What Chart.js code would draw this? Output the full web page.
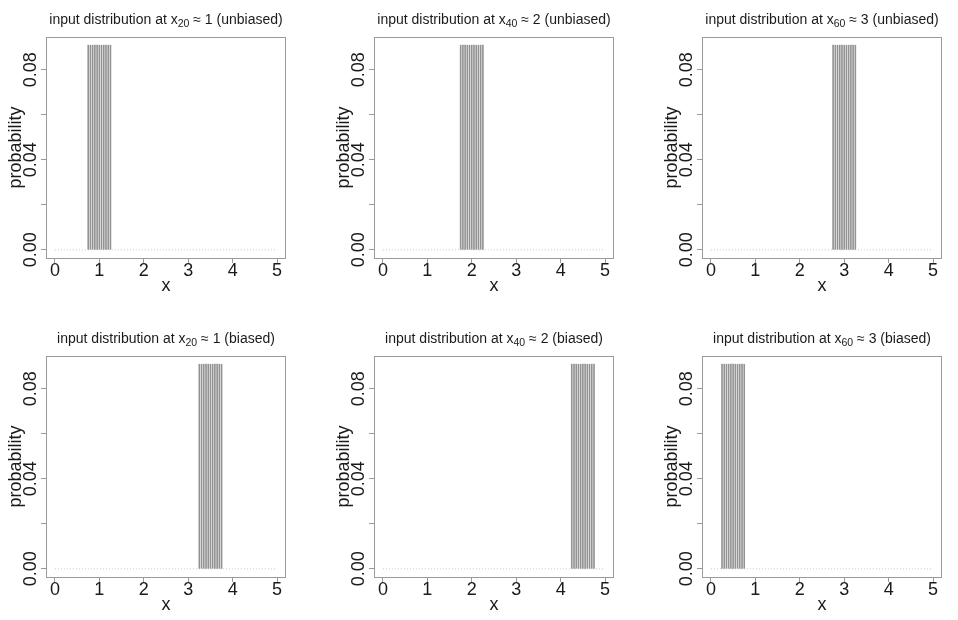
<!DOCTYPE html>
<html>
<head>
<meta charset="utf-8">
<script src="https://cdn.jsdelivr.net/npm/chart.js@4.4.1/dist/chart.umd.min.js"></script>
<style>
  body { margin: 0; background: #fff; width: 958px; height: 620px; position: relative; overflow: hidden; }
  canvas { position: absolute; }
</style>
</head>
<body>
<canvas id="p0" width="300" height="298" style="left:0px;top:0px"></canvas>
<canvas id="p1" width="300" height="298" style="left:328px;top:0px"></canvas>
<canvas id="p2" width="300" height="298" style="left:656px;top:0px"></canvas>
<canvas id="p3" width="300" height="298" style="left:0px;top:319px"></canvas>
<canvas id="p4" width="300" height="298" style="left:328px;top:319px"></canvas>
<canvas id="p5" width="300" height="298" style="left:656px;top:319px"></canvas>
<script>
// axis ticks
const xTicks = [0, 1, 2, 3, 4, 5];
const yTicks = [0, 0.02, 0.04, 0.06, 0.08];
const yLabelled = [0, 0.04, 0.08];

// dotted zero line across the grid
const baselineX = [0, 5];
const baselineY = [0, 0];

// support points of each input distribution
const xUnbiased20 = [0.75, 0.80, 0.85, 0.90, 0.95, 1.00, 1.05, 1.10, 1.15, 1.20, 1.25];
const xUnbiased40 = [1.75, 1.80, 1.85, 1.90, 1.95, 2.00, 2.05, 2.10, 2.15, 2.20, 2.25];
const xUnbiased60 = [2.75, 2.80, 2.85, 2.90, 2.95, 3.00, 3.05, 3.10, 3.15, 3.20, 3.25];
const xBiased20 = [3.25, 3.30, 3.35, 3.40, 3.45, 3.50, 3.55, 3.60, 3.65, 3.70, 3.75];
const xBiased40 = [4.25, 4.30, 4.35, 4.40, 4.45, 4.50, 4.55, 4.60, 4.65, 4.70, 4.75];
const xBiased60 = [0.25, 0.30, 0.35, 0.40, 0.45, 0.50, 0.55, 0.60, 0.65, 0.70, 0.75];
const prob = [0.0909, 0.0909, 0.0909, 0.0909, 0.0909, 0.0909, 0.0909, 0.0909, 0.0909, 0.0909, 0.0909];

// title parts
const subscripts = ['20', '40', '60'];
const approxValues = ['1', '2', '3'];
const kinds = ['unbiased', 'biased'];

const FONT = '"Liberation Sans", Arial, Helvetica, sans-serif';
const AXIS_GRAY = '#9a9a9a';
const LINE_GRAY = '#939393';
const TEXT = '#1a1a1a';

/**
 * Box round the plot region
 */
const boxPlugin = {
  id: 'plotBox',
  afterDraw(chart) {
    const { ctx, chartArea: a } = chart;
    ctx.save();
    ctx.strokeStyle = AXIS_GRAY;
    ctx.lineWidth = 1;
    ctx.strokeRect(Math.round(a.left) + 0.5, Math.round(a.top) + 0.5,
      Math.round(a.right - a.left) - 1, Math.round(a.bottom - a.top));
    ctx.restore();
  }
};

/**
 * Title with a real subscript
 */
const titlePlugin = {
  id: 'panelTitle',
  afterDraw(chart, args, opts) {
    const { ctx, chartArea: a } = chart;
    const head = 'input distribution at x';
    const tail = ' \u2248 ' + opts.approx + ' (' + opts.kind + ')';
    ctx.save();
    ctx.fillStyle = TEXT;
    ctx.textBaseline = 'alphabetic';
    ctx.font = '14px ' + FONT;
    const wHead = ctx.measureText(head).width;
    const wTail = ctx.measureText(tail).width;
    ctx.font = '10.5px ' + FONT;
    const wSub = ctx.measureText(opts.sub).width;
    const total = wHead + wSub + wTail;
    let x = (a.left + a.right) / 2 - total / 2;
    const y = 24;
    ctx.font = '14px ' + FONT;
    ctx.fillText(head, x, y);
    x += wHead;
    ctx.font = '10.5px ' + FONT;
    ctx.fillText(opts.sub, x, y + 3);
    x += wSub;
    ctx.font = '14px ' + FONT;
    ctx.fillText(tail, x, y);
    ctx.restore();
  }
};

function makePanel(id, xs, sub, approx, kind) {
  const ctx = document.getElementById(id).getContext('2d');
  return new Chart(ctx, {
    type: 'bar',
    data: {
      datasets: [
        {
          type: 'line',
          data: baselineX.map((x, i) => ({ x, y: baselineY[i] })),
          borderColor: '#c8c8c8',
          borderWidth: 1,
          borderDash: [1, 2],
          pointRadius: 0,
          order: 2
        },
        {
          type: 'bar',
          data: xs.map((x, i) => ({ x, y: prob[i] })),
          backgroundColor: LINE_GRAY,
          barThickness: 1,
          borderWidth: 0,
          order: 1
        }
      ]
    },
    options: {
      responsive: false,
      animation: false,
      layout: { padding: { top: 37, right: 14, left: 0, bottom: 0 } },
      plugins: {
        legend: { display: false },
        tooltip: { enabled: false },
        panelTitle: { sub, approx, kind }
      },
      scales: {
        x: {
          type: 'linear',
          min: -0.2,
          max: 5.2,
          offset: false,
          afterBuildTicks: s => { s.ticks = xTicks.map(v => ({ value: v })); },
          afterFit: s => { s.height = 40; },
          grid: { drawOnChartArea: false, drawTicks: true, tickLength: 5, color: AXIS_GRAY, offset: false },
          border: { display: false },
          ticks: { font: { family: FONT, size: 18 }, color: TEXT, padding: -3, maxRotation: 0 },
          title: { display: true, text: 'x', font: { family: FONT, size: 18 }, color: TEXT, padding: { top: 0, bottom: 1 } }
        },
        y: {
          type: 'linear',
          min: -0.003636,
          max: 0.094545,
          afterBuildTicks: s => { s.ticks = yTicks.map(v => ({ value: v })); },
          afterFit: s => { s.width = 46; },
          grid: { drawOnChartArea: false, drawTicks: true, tickLength: 5, color: AXIS_GRAY },
          border: { display: false },
          ticks: {
            font: { family: FONT, size: 18 },
            color: TEXT,
            minRotation: 90,
            maxRotation: 90,
            crossAlign: 'center',
            padding: -8,
            callback: v => yLabelled.includes(v) ? v.toFixed(2) : ''
          },
          title: { display: true, text: 'probability', font: { family: FONT, size: 18 }, color: TEXT, padding: { top: 5, bottom: 0 } }
        }
      }
    },
    plugins: [boxPlugin, titlePlugin]
  });
}

makePanel('p0', xUnbiased20, subscripts[0], approxValues[0], kinds[0]);
makePanel('p1', xUnbiased40, subscripts[1], approxValues[1], kinds[0]);
makePanel('p2', xUnbiased60, subscripts[2], approxValues[2], kinds[0]);
makePanel('p3', xBiased20, subscripts[0], approxValues[0], kinds[1]);
makePanel('p4', xBiased40, subscripts[1], approxValues[1], kinds[1]);
makePanel('p5', xBiased60, subscripts[2], approxValues[2], kinds[1]);
</script>
</body>
</html>
